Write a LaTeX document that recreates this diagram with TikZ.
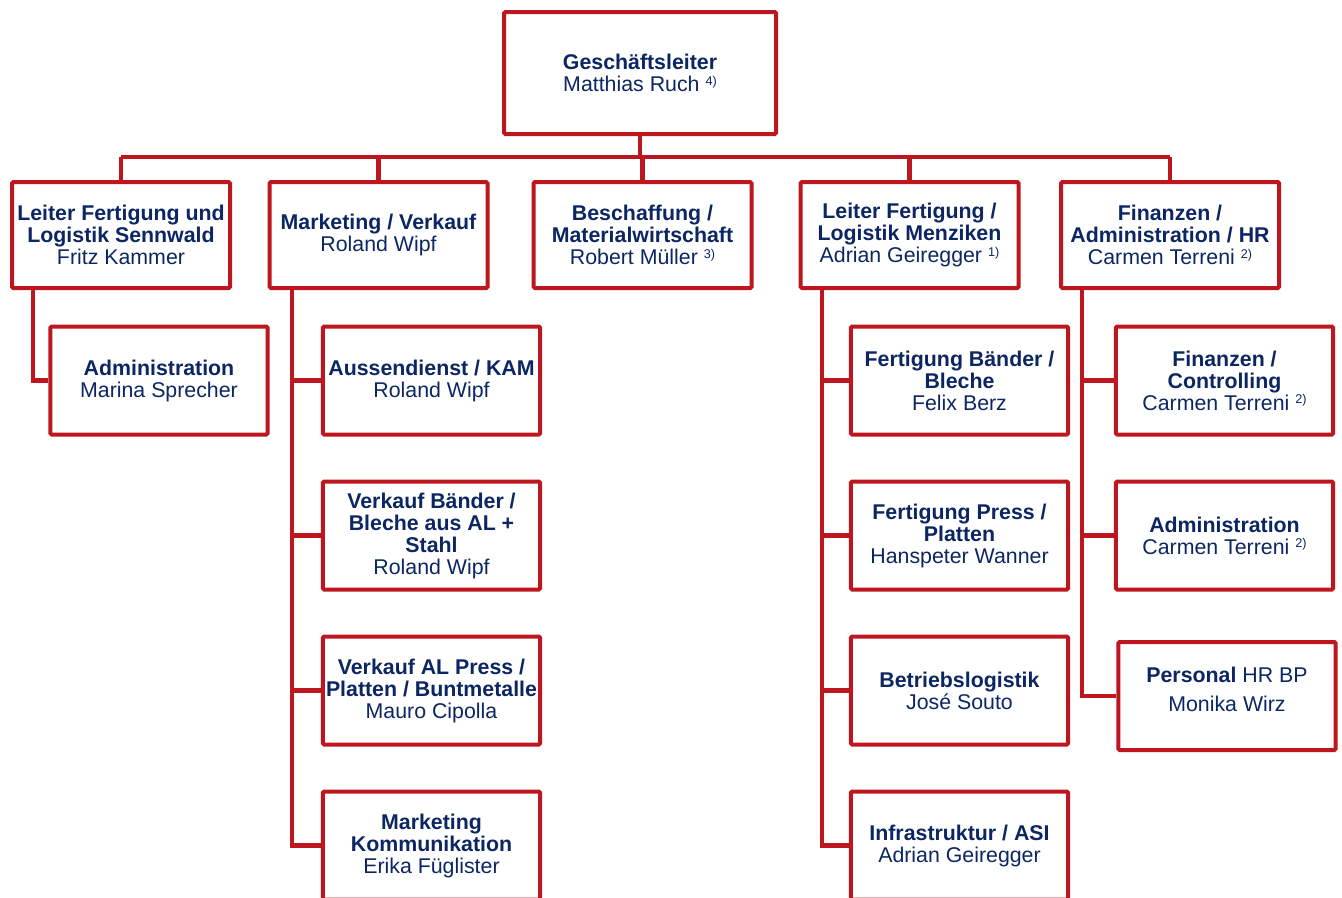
\documentclass[tikz,border=0pt]{standalone}
\usepackage{fontspec}
\setmainfont{Liberation Sans}
\definecolor{orgred}{RGB}{190,22,30}
\definecolor{orgblue}{RGB}{12,38,100}
\newcommand{\fn}[1]{\raisebox{0.55ex}{\fontsize{9.5pt}{9.5pt}\selectfont #1}}
\begin{document}
\begin{tikzpicture}[x=0.75pt,y=-0.75pt,
  unit/.style={draw=orgred, line width=3pt, rounded corners=1pt, fill=white, text=orgblue,
    align=center, inner sep=2pt, minimum width=163.5pt, minimum height=79.5pt,
    font=\fontsize{16pt}{16.5pt}\selectfont},
  chief/.style={unit, minimum width=204pt, minimum height=91.5pt},
  sub/.style={unit, minimum width=163pt, minimum height=81pt},
  link/.style={draw=orgred, line width=3.2pt}]
\useasboundingbox (0,0) rectangle (1342,897);
\clip (0,0) rectangle (1342,897);
% Geschaeftsleitung
\node[chief] (gl) at (640,73) {\textbf{Geschäftsleiter}\\Matthias Ruch \fn{4)}};
% Bereiche
\node[unit] (sen) at (121,235) {\textbf{Leiter Fertigung und}\\\textbf{Logistik Sennwald}\\Fritz Kammer};
\node[unit] (mkt) at (378.5,235) {\textbf{Marketing / Verkauf}\\Roland Wipf};
\node[unit] (bes) at (642.5,235) {\textbf{Beschaffung /}\\\textbf{Materialwirtschaft}\\Robert Müller \fn{3)}};
\node[unit] (men) at (909.5,235) {\textbf{Leiter Fertigung /}\\\textbf{Logistik Menziken}\\Adrian Geiregger \fn{1)}};
\node[unit] (fin) at (1170,235) {\textbf{Finanzen /}\\\textbf{Administration / HR}\\Carmen Terreni \fn{2)}};
% Sennwald
\node[sub] (senadm) at (159,380.5) {\textbf{Administration}\\Marina Sprecher};
% Marketing / Verkauf
\node[sub] (mkt1) at (431.5,380.5) {\textbf{Aussendienst / KAM}\\Roland Wipf};
\node[sub] (mkt2) at (431.5,535.5) {\textbf{Verkauf Bänder /}\\\textbf{Bleche aus AL +}\\\textbf{Stahl}\\Roland Wipf};
\node[sub] (mkt3) at (431.5,690.5) {\textbf{Verkauf AL Press /}\\\textbf{Platten / Buntmetalle}\\Mauro Cipolla};
\node[sub] (mkt4) at (431.5,845.5) {\textbf{Marketing}\\\textbf{Kommunikation}\\Erika Füglister};
% Menziken
\node[sub] (men1) at (959.5,380.5) {\textbf{Fertigung Bänder /}\\\textbf{Bleche}\\Felix Berz};
\node[sub] (men2) at (959.5,535.5) {\textbf{Fertigung Press /}\\\textbf{Platten}\\Hanspeter Wanner};
\node[sub] (men3) at (959.5,690.5) {\textbf{Betriebslogistik}\\José Souto};
\node[sub] (men4) at (959.5,845.5) {\textbf{Infrastruktur / ASI}\\Adrian Geiregger};
% Finanzen
\node[sub] (fin1) at (1224.5,380.5) {\textbf{Finanzen /}\\\textbf{Controlling}\\Carmen Terreni \fn{2)}};
\node[sub] (fin2) at (1224.5,535.5) {\textbf{Administration}\\Carmen Terreni \fn{2)}};
\node[sub] (fin3) at (1227,696) {\textbf{Personal} HR BP\\[5pt]Monika Wirz\\[-6pt]};
% Verbindungen
\coordinate (bus) at (0,157);
\coordinate (vsen) at (33,0);
\coordinate (vmkt) at (292,0);
\coordinate (vmen) at (822,0);
\coordinate (vfin) at (1082,0);
\draw[link] (sen.north |- bus) -- (fin.north |- bus);
\draw[link] (gl.south) -- (gl.south |- bus);
\foreach \b in {sen,mkt,bes,men,fin}
  \draw[link] (\b.north |- bus) -- (\b.north);
\draw[link] (sen.south -| vsen) |- (senadm.west);
\foreach \c in {mkt1,mkt2,mkt3,mkt4}
  \draw[link] (mkt.south -| vmkt) |- (\c.west);
\foreach \c in {men1,men2,men3,men4}
  \draw[link] (men.south -| vmen) |- (\c.west);
\foreach \c in {fin1,fin2,fin3}
  \draw[link] (fin.south -| vfin) |- (\c.west);
\end{tikzpicture}
\end{document}
